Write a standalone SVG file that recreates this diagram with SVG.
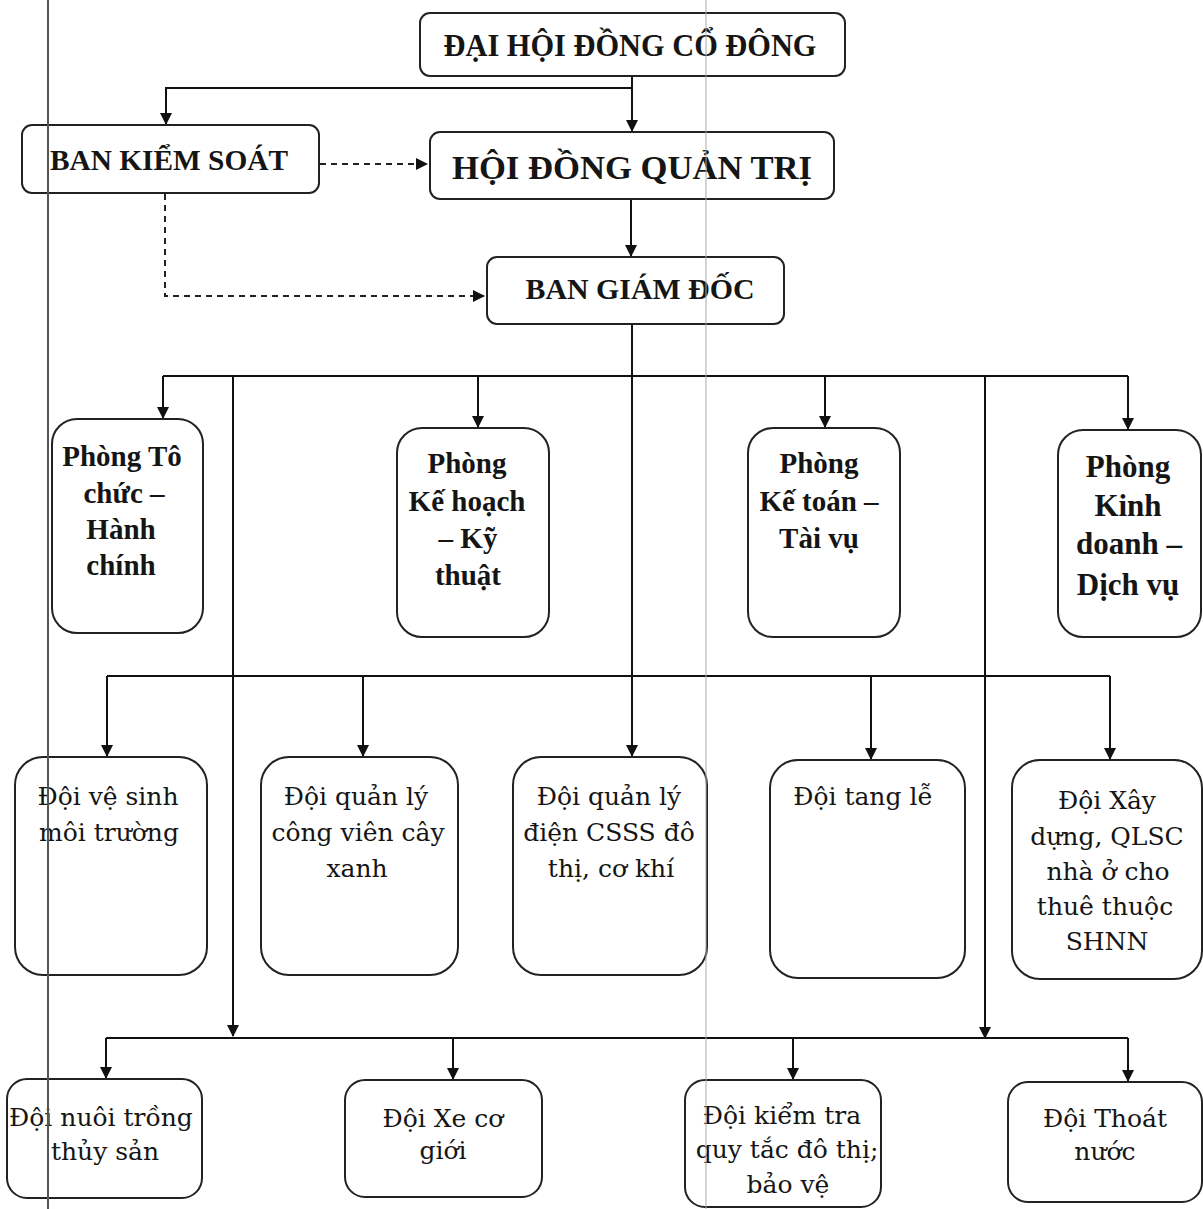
<svg xmlns="http://www.w3.org/2000/svg" width="1203" height="1209" viewBox="0 0 1203 1209">
<style>
.box{fill:#fff;stroke:#222;stroke-width:2}
.ln{fill:none;stroke:#111;stroke-width:2}
.dash{fill:none;stroke:#222;stroke-width:2;stroke-dasharray:6,5}
text{font-family:"Liberation Serif",serif;fill:#151515;text-anchor:middle}
.hd{font-weight:bold}
.ph{font-weight:bold;font-size:29px}
.doi{font-family:"DejaVu Serif","Liberation Serif",serif;font-size:25px}
.page{stroke:#555;stroke-width:2}
.page2{stroke:#aaa;stroke-width:1}
</style>
<defs>
<marker id="ar" markerUnits="userSpaceOnUse" markerWidth="12" markerHeight="12" refX="11" refY="6" orient="auto">
<path d="M0,0 L12,6 L0,12 z" fill="#111"/>
</marker>
</defs>
<rect width="1203" height="1209" fill="#fff"/>
<g id="connectors">
<path class="ln" d="M632,76 V88 H166 V124" marker-end="url(#ar)"/>
<path class="ln" d="M632,88 V131" marker-end="url(#ar)"/>
<path class="dash" d="M320,164 H427" marker-end="url(#ar)"/>
<path class="dash" d="M165,194 V296 H484" marker-end="url(#ar)"/>
<path class="ln" d="M631,199 V256" marker-end="url(#ar)"/>
<path class="ln" d="M632,324 V756" marker-end="url(#ar)"/>
<path class="ln" d="M163,376 H1128"/>
<path class="ln" d="M163,376 V418" marker-end="url(#ar)"/>
<path class="ln" d="M478,376 V427" marker-end="url(#ar)"/>
<path class="ln" d="M825,376 V427" marker-end="url(#ar)"/>
<path class="ln" d="M1128,376 V429" marker-end="url(#ar)"/>
<path class="ln" d="M233,376 V1036" marker-end="url(#ar)"/>
<path class="ln" d="M985,376 V1038" marker-end="url(#ar)"/>
<path class="ln" d="M107,676 H1110"/>
<path class="ln" d="M107,676 V756" marker-end="url(#ar)"/>
<path class="ln" d="M363,676 V756" marker-end="url(#ar)"/>
<path class="ln" d="M871,676 V759" marker-end="url(#ar)"/>
<path class="ln" d="M1110,676 V759" marker-end="url(#ar)"/>
<path class="ln" d="M106,1038 H1128"/>
<path class="ln" d="M106,1038 V1078" marker-end="url(#ar)"/>
<path class="ln" d="M453,1038 V1079" marker-end="url(#ar)"/>
<path class="ln" d="M793,1038 V1079" marker-end="url(#ar)"/>
<path class="ln" d="M1128,1038 V1081" marker-end="url(#ar)"/>
</g>
<g id="n-dhdcd">
<rect class="box" x="420" y="13" width="425" height="63" rx="10"/>
<text class="hd" x="630" y="56" font-size="32" textLength="373" lengthAdjust="spacingAndGlyphs">ĐẠI HỘI ĐỒNG CỔ ĐÔNG</text>
</g>
<g id="n-bks">
<rect class="box" x="22" y="125" width="297" height="68" rx="10"/>
<text class="hd" x="169" y="170" font-size="29" textLength="238" lengthAdjust="spacingAndGlyphs">BAN KIỂM SOÁT</text>
</g>
<g id="n-hdqt">
<rect class="box" x="430" y="132" width="404" height="67" rx="10"/>
<text class="hd" x="632" y="179" font-size="34" textLength="360" lengthAdjust="spacingAndGlyphs">HỘI ĐỒNG QUẢN TRỊ</text>
</g>
<g id="n-bgd">
<rect class="box" x="487" y="257" width="297" height="67" rx="10"/>
<text class="hd" x="640" y="299" font-size="29" textLength="229" lengthAdjust="spacingAndGlyphs">BAN GIÁM ĐỐC</text>
</g>
<g id="n-tochuc">
<rect class="box" x="52" y="419" width="151" height="214" rx="25"/>
<text class="ph"><tspan x="122" y="466">Phòng Tô</tspan><tspan x="124" y="503">chức –</tspan><tspan x="121" y="539">Hành</tspan><tspan x="121" y="575">chính</tspan></text>
</g>
<g id="n-kehoach">
<rect class="box" x="397" y="428" width="152" height="209" rx="25"/>
<text class="ph"><tspan x="467" y="473">Phòng</tspan><tspan x="467" y="511">Kế hoạch</tspan><tspan x="468" y="548">– Kỹ</tspan><tspan x="468" y="585">thuật</tspan></text>
</g>
<g id="n-ketoan">
<rect class="box" x="748" y="428" width="152" height="209" rx="25"/>
<text class="ph"><tspan x="819" y="473">Phòng</tspan><tspan x="819" y="511">Kế toán –</tspan><tspan x="819" y="548">Tài vụ</tspan></text>
</g>
<g id="n-kinhdoanh">
<rect class="box" x="1058" y="430" width="143" height="207" rx="25"/>
<text class="ph" style="font-size:31px"><tspan x="1128" y="477">Phòng</tspan><tspan x="1128" y="516">Kinh</tspan><tspan x="1129" y="554">doanh –</tspan><tspan x="1128" y="595">Dịch vụ</tspan></text>
</g>
<g id="n-vesinh">
<rect class="box" x="15" y="757" width="192" height="218" rx="28"/>
<text class="doi" x="108" y="805">Đội vệ sinh</text>
<text class="doi" x="109" y="841">môi trường</text>
</g>
<g id="n-congvien">
<rect class="box" x="261" y="757" width="197" height="218" rx="28"/>
<text class="doi" x="356" y="805">Đội quản lý</text>
<text class="doi" x="358" y="841">công viên cây</text>
<text class="doi" x="357" y="877">xanh</text>
</g>
<g id="n-dien">
<rect class="box" x="513" y="757" width="194" height="218" rx="28"/>
<text class="doi" x="609" y="805">Đội quản lý</text>
<text class="doi" x="609" y="841">điện CSSS đô</text>
<text class="doi" x="611" y="877">thị, cơ khí</text>
</g>
<g id="n-tangle">
<rect class="box" x="770" y="760" width="195" height="218" rx="28"/>
<text class="doi" x="863" y="805">Đội tang lễ</text>
</g>
<g id="n-xaydung">
<rect class="box" x="1012" y="760" width="190" height="219" rx="28"/>
<text class="doi" x="1107" y="809">Đội Xây</text>
<text class="doi" x="1107" y="845">dựng, QLSC</text>
<text class="doi" x="1108" y="880">nhà ở cho</text>
<text class="doi" x="1105" y="915">thuê thuộc</text>
<text class="doi" x="1107" y="950">SHNN</text>
</g>
<g id="n-nuoitrong">
<rect class="box" x="7" y="1079" width="195" height="119" rx="20"/>
<text class="doi" x="101" y="1126">Đội nuôi trồng</text>
<text class="doi" x="105" y="1160">thủy sản</text>
</g>
<g id="n-xecogioi">
<rect class="box" x="345" y="1080" width="197" height="117" rx="20"/>
<text class="doi" x="443" y="1127">Đội Xe cơ</text>
<text class="doi" x="443" y="1159">giới</text>
</g>
<g id="n-kiemtra">
<rect class="box" x="685" y="1080" width="196" height="127" rx="20"/>
<text class="doi" x="782" y="1124">Đội kiểm tra</text>
<text class="doi" x="787" y="1158">quy tắc đô thị;</text>
<text class="doi" x="788" y="1193">bảo vệ</text>
</g>
<g id="n-thoatnuoc">
<rect class="box" x="1008" y="1082" width="194" height="120" rx="20"/>
<text class="doi" x="1105" y="1127">Đội Thoát</text>
<text class="doi" x="1105" y="1160">nước</text>
</g>
<line class="page" x1="48" y1="0" x2="48" y2="1209"/>
<line class="page2" x1="706" y1="0" x2="706" y2="1209"/>
</svg>
